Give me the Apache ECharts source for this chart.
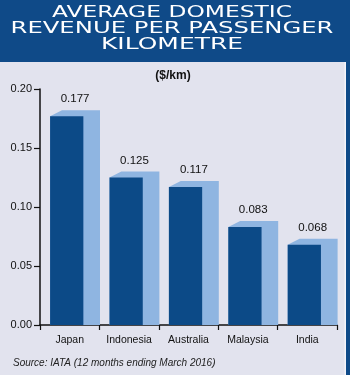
<!DOCTYPE html>
<html>
<head>
<meta charset="utf-8">
<script src="https://cdn.jsdelivr.net/npm/echarts@6/dist/echarts.min.js"></script>
<style>
  html, body { margin: 0; padding: 0; background: #e2e3ee; }
  #chart { width: 350px; height: 375px; }
</style>
</head>
<body>
<div id="chart"></div>
<script>
const titleLines = ['AVERAGE DOMESTIC', 'REVENUE PER PASSENGER', 'KILOMETRE'];
const unitText = '($/km)';
const sourceText = 'Source: IATA (12 months ending March 2016)';
const categories = ['Japan', 'Indonesia', 'Australia', 'Malaysia', 'India'];
const values = [0.177, 0.125, 0.117, 0.083, 0.068];
const valueLabels = ['0.177', '0.125', '0.117', '0.083', '0.068'];
const yTicks = [0, 0.05, 0.10, 0.15, 0.20];

const DARK = '#0c4a87';
const LIGHT = '#8fb5e1';
const HEADER = '#0f4a88';
const BG = '#e2e3ee';

const TITLE_FONT = '14px "DejaVu Sans"';
const targetWidths = [240, 323, 142];
const titleY = [13, 29, 45.5];
const mctx = document.createElement('canvas').getContext('2d');
mctx.font = TITLE_FONT;

const titleGraphics = titleLines.map((t, i) => {
  const w = mctx.measureText(t).width;
  return {
    type: 'text', x: 172, y: titleY[i], scaleX: targetWidths[i] / w, scaleY: 1.08,
    style: { text: t, font: TITLE_FONT, fill: '#ffffff', align: 'center', verticalAlign: 'middle' },
    z: 10
  };
});

const chart = echarts.init(document.getElementById('chart'), null, { renderer: 'canvas' });

chart.setOption({
  backgroundColor: BG,
  animation: false,
  grid: { left: 40, right: 13, top: 89, bottom: 50, containLabel: false },
  graphic: [
    { type: 'rect', shape: { x: 0, y: 0, width: 350, height: 62 }, style: { fill: HEADER }, z: 5 },
    { type: 'rect', shape: { x: 346, y: 62, width: 4, height: 313 }, style: { fill: HEADER }, z: 5 },
    { type: 'rect', shape: { x: 344.5, y: 62, width: 1.5, height: 313 }, style: { fill: '#f3f4fa' }, z: 5 },
    ...titleGraphics,
    { type: 'text', x: 173, y: 76, style: { text: unitText, font: 'bold 12px "Liberation Sans"', fill: '#111', align: 'center', verticalAlign: 'middle' }, z: 10 },
    { type: 'text', x: 13, y: 363, style: { text: sourceText, font: 'italic 10px "Liberation Sans"', fill: '#222', align: 'left', verticalAlign: 'middle' }, z: 10 }
  ],
  xAxis: {
    type: 'category',
    data: categories,
    boundaryGap: true,
    axisLine: { lineStyle: { color: '#111', width: 1.5 } },
    axisTick: { show: true, length: 5, lineStyle: { color: '#111', width: 1.2 } },
    axisLabel: { color: '#111', fontSize: 10.5, fontFamily: 'Liberation Sans', margin: 10 }
  },
  yAxis: {
    type: 'value',
    min: 0, max: 0.2, interval: 0.05,
    axisLine: { show: true, lineStyle: { color: '#111', width: 1.5 } },
    axisTick: { show: true, length: 6, lineStyle: { color: '#111', width: 1.2 } },
    splitLine: { show: false },
    axisLabel: { color: '#111', fontSize: 11, fontFamily: 'Liberation Sans', margin: 8,
      formatter: v => v.toFixed(2) }
  },
  series: [{
    type: 'custom',
    data: values.map((v, i) => [i, v]),
    encode: { x: 0, y: 1 },
    renderItem: function (params, api) {
      const base = api.coord([api.value(0), 0]);
      const top = api.coord([api.value(0), api.value(1)]);
      const w = api.size([1, 0])[0];
      const left = base[0] - w / 2 + w * 0.17;
      const fw = w * 0.56, sw = w * 0.28;
      const dx = w * 0.2, dy = 6;
      const idx = params.dataIndex;
      return {
        type: 'group',
        children: [
          { type: 'polygon',
            shape: { points: [[left, top[1]], [left + dx, top[1] - dy], [left + fw + sw, top[1] - dy], [left + fw + sw, base[1]], [left, base[1]]] },
            style: { fill: LIGHT } },
          { type: 'rect', shape: { x: left, y: top[1], width: fw, height: base[1] - top[1] }, style: { fill: DARK } },
          { type: 'text', x: left + (fw + sw) / 2, y: top[1] - dy - 5,
            style: { text: valueLabels[idx], font: '11.5px "Liberation Sans"', fill: '#111', align: 'center', verticalAlign: 'bottom' } }
        ]
      };
    },
    z: 2
  }]
});
</script>
</body>
</html>
